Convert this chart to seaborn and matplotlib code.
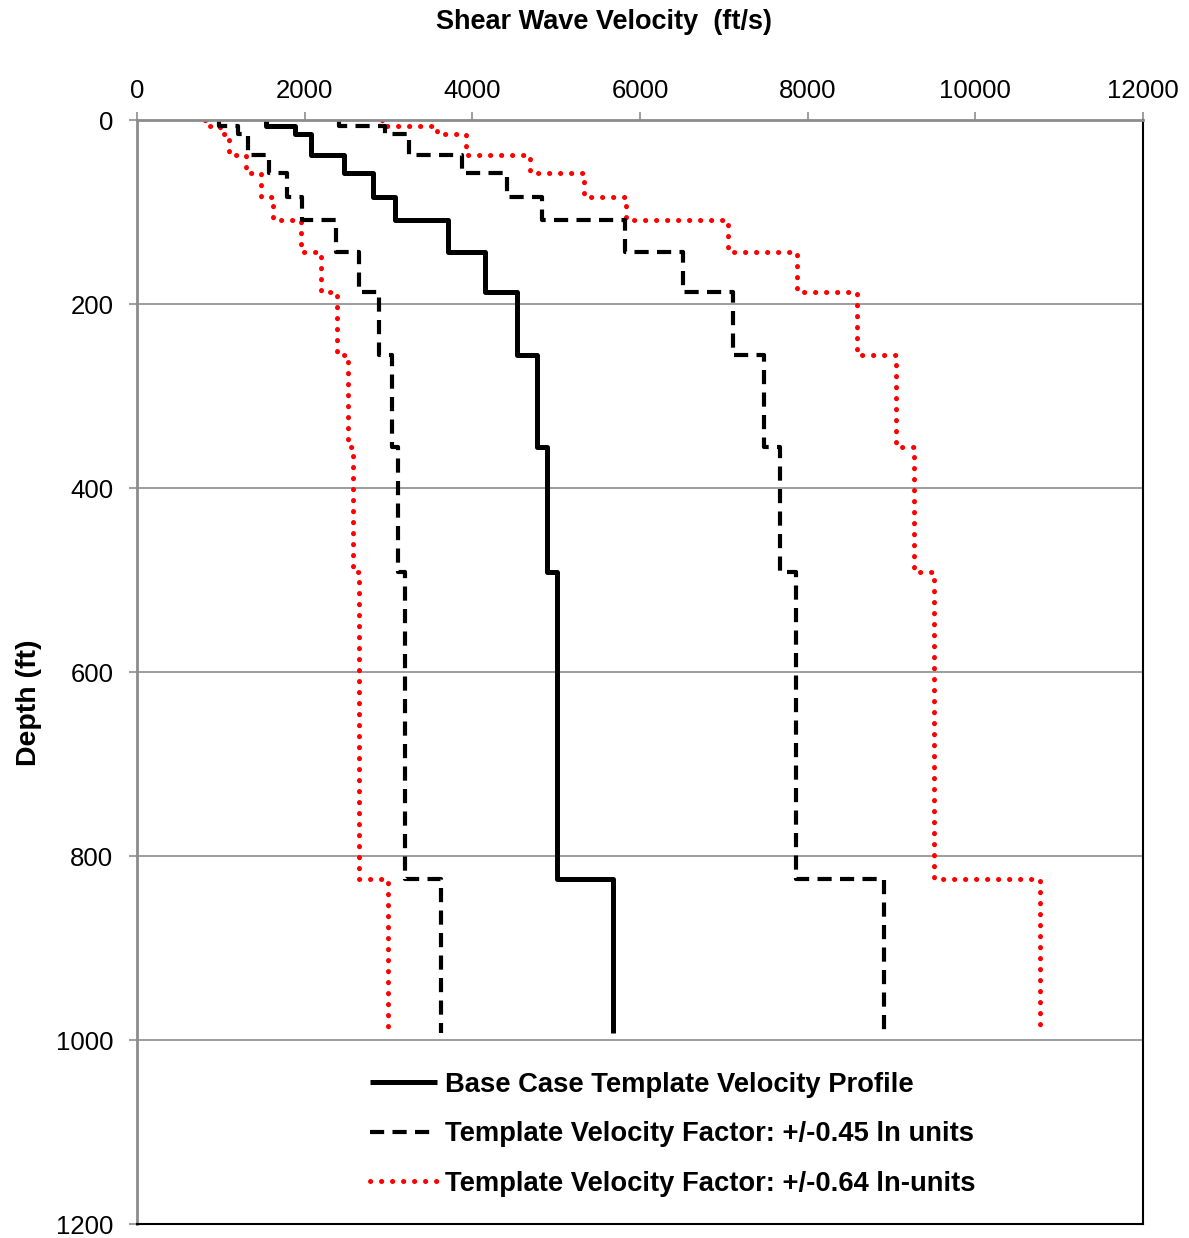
import matplotlib
matplotlib.use("Agg")
import matplotlib.pyplot as plt
import seaborn as sns
import pandas as pd
from matplotlib.lines import Line2D

# ---- data ----
layer_top = [0, 7, 15, 38, 58, 84, 109, 144, 187, 255, 355, 491, 825]
layer_bottom = [7, 15, 38, 58, 84, 109, 144, 187, 255, 355, 491, 825, 992]

vs_base = [1540, 1885, 2072, 2470, 2811, 3078, 3714, 4152, 4530, 4772, 4888, 5015, 5679]
vs_low_045 = [982, 1202, 1321, 1575, 1792, 1963, 2368, 2647, 2889, 3043, 3117, 3198, 3621]
vs_high_045 = [2415, 2956, 3250, 3874, 4409, 4827, 5825, 6512, 7104, 7484, 7666, 7865, 8907]
vs_low_064 = [812, 994, 1093, 1302, 1482, 1623, 1958, 2189, 2389, 2516, 2577, 2644, 2994]
vs_high_064 = [2921, 3575, 3930, 4684, 5331, 5837, 7044, 7874, 8591, 9050, 9270, 9511, 10770]

legend_labels = ["Base Case Template Velocity Profile",
                 "Template Velocity Factor: +/-0.45 ln units",
                 "Template Velocity Factor: +/-0.64 ln-units"]

x_ticks = [0, 2000, 4000, 6000, 8000, 10000, 12000]
y_ticks = [0, 200, 400, 600, 800, 1000, 1200]


def step_frame(vs):
    xs, ys = [], []
    for v, t, b in zip(vs, layer_top, layer_bottom):
        xs += [v, v]
        ys += [t, b]
    return pd.DataFrame({"vs": xs, "depth": ys})


sns.set_theme(style="white")
plt.rcParams["font.family"] = ["Liberation Sans", "DejaVu Sans"]
plt.rcParams["text.color"] = "black"
plt.rcParams["axes.labelcolor"] = "black"
plt.rcParams["xtick.color"] = "black"
plt.rcParams["ytick.color"] = "black"

fig = plt.figure(figsize=(11.89, 12.38), dpi=100)
ax = fig.add_axes([137 / 1189, 1 - 1224 / 1238, (1143 - 137) / 1189, (1224 - 120) / 1238])

grid_col = "#8c8c8c"
for yv in y_ticks[1:-1]:
    ax.axhline(yv, color=grid_col, lw=1.2, zorder=0)

dot_kw = dict(color="red", lw=3.6, linestyle=(0, (0.05, 2.15)), dash_capstyle="round")
dash_kw = dict(color="black", lw=3.0, linestyle=(0, (3.4, 2.0)), dash_capstyle="butt")
solid_kw = dict(color="black", lw=3.6, solid_capstyle="butt")

for vs in (vs_low_064, vs_high_064):
    sns.lineplot(data=step_frame(vs), x="vs", y="depth", sort=False, estimator=None,
                 ax=ax, legend=False, **dot_kw)
for vs in (vs_low_045, vs_high_045):
    sns.lineplot(data=step_frame(vs), x="vs", y="depth", sort=False, estimator=None,
                 ax=ax, legend=False, **dash_kw)
sns.lineplot(data=step_frame(vs_base), x="vs", y="depth", sort=False, estimator=None,
             ax=ax, legend=False, **solid_kw)

ax.set_xlim(0, 12000)
ax.set_ylim(1200, 0)
ax.set_xticks(x_ticks)
ax.set_yticks(y_ticks)
ax.xaxis.tick_top()
ax.tick_params(axis="x", which="both", top=True, bottom=False, labeltop=True, labelbottom=False,
               direction="out", length=6, width=1.2, color=grid_col, labelcolor="black",
               labelsize=18.5, pad=6)
ax.tick_params(axis="y", left=True, direction="out", length=6, width=1.2, color=grid_col,
               labelcolor="black", labelsize=18.5, pad=11)

ax.spines["top"].set_color(grid_col)
ax.spines["top"].set_linewidth(2.0)
ax.spines["left"].set_color(grid_col)
ax.spines["left"].set_linewidth(2.0)
ax.spines["right"].set_color("black")
ax.spines["right"].set_linewidth(1.5)
ax.spines["bottom"].set_color("black")
ax.spines["bottom"].set_linewidth(1.5)

ax.set_xlabel("")
ax.set_ylabel("Depth (ft)", fontsize=20.5, fontweight="bold", color="black")
ax.yaxis.set_label_coords(-0.094, 0.472)

fig.text(604 / 1189, 1 - 22 / 1238, "Shear Wave Velocity  (ft/s)", ha="center", va="center",
         fontsize=19.5, fontweight="bold", color="black")

handles = [Line2D([], [], **solid_kw),
           Line2D([], [], **dash_kw),
           Line2D([], [], **dot_kw)]
leg = ax.legend(handles, legend_labels, loc="upper left",
                bbox_to_anchor=((370 - 137) / 1006, 1 - (1072 - 120) / 1104),
                frameon=False, borderpad=0, borderaxespad=0, handlelength=2.45,
                handletextpad=0.3, labelspacing=0.85,
                prop={"size": 19.7, "weight": "bold"})
for t in leg.get_texts():
    t.set_color("black")

fig.savefig("out.png", dpi=100, facecolor="white")
